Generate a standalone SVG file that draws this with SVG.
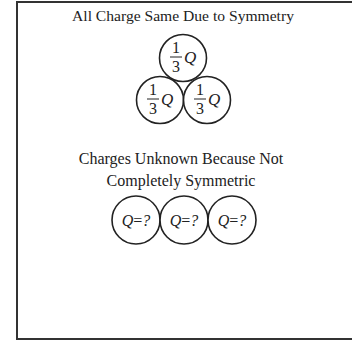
<svg xmlns="http://www.w3.org/2000/svg" width="352" height="341" viewBox="0 0 352 341">
<style>
.t{font-family:"Liberation Serif","Times New Roman",serif;font-size:16px;fill:#222;text-anchor:middle}
.c{fill:#fff;stroke:#222;stroke-width:1.6}
.f{font-family:"Liberation Serif","Times New Roman",serif;font-size:16px;fill:#222;text-anchor:middle}
.q{font-family:"Liberation Serif","Times New Roman",serif;font-size:16px;fill:#222;font-style:italic}
.fq{font-family:"Liberation Serif","Times New Roman",serif;font-size:17px;fill:#222;font-style:italic}
.bar{stroke:#222;stroke-width:1}
</style>
<rect x="17" y="2" width="400" height="337" fill="#fff" stroke="#333" stroke-width="2"/>
<text class="t" x="183" y="21" style="font-size:15.6px">All Charge Same Due to Symmetry</text>
<g id="top">
<circle class="c" cx="183" cy="58" r="23.5"/>
<text class="f" x="176" y="53">1</text><line class="bar" x1="170" y1="57" x2="182" y2="57"/><text class="f" x="176" y="72">3</text>
<text class="fq" x="184" y="63">Q</text>
</g>
<g id="left">
<circle class="c" cx="160" cy="100" r="23.5"/>
<text class="f" x="153" y="95">1</text><line class="bar" x1="147" y1="99" x2="159" y2="99"/><text class="f" x="153" y="114">3</text>
<text class="fq" x="161" y="105">Q</text>
</g>
<g id="right">
<circle class="c" cx="207" cy="100" r="23.5"/>
<text class="f" x="200" y="95">1</text><line class="bar" x1="194" y1="99" x2="206" y2="99"/><text class="f" x="200" y="114">3</text>
<text class="fq" x="208" y="105">Q</text>
</g>
<text class="t" x="181" y="164">Charges Unknown Because Not</text>
<text class="t" x="181" y="186">Completely Symmetric</text>
<g id="u1"><circle class="c" cx="136" cy="220" r="24"/><text class="q" x="136" y="226" text-anchor="middle">Q<tspan font-style="normal">=</tspan>?</text></g>
<g id="u2"><circle class="c" cx="184" cy="220" r="24"/><text class="q" x="184" y="226" text-anchor="middle">Q<tspan font-style="normal">=</tspan>?</text></g>
<g id="u3"><circle class="c" cx="232" cy="220" r="24"/><text class="q" x="232" y="226" text-anchor="middle">Q<tspan font-style="normal">=</tspan>?</text></g>
</svg>
